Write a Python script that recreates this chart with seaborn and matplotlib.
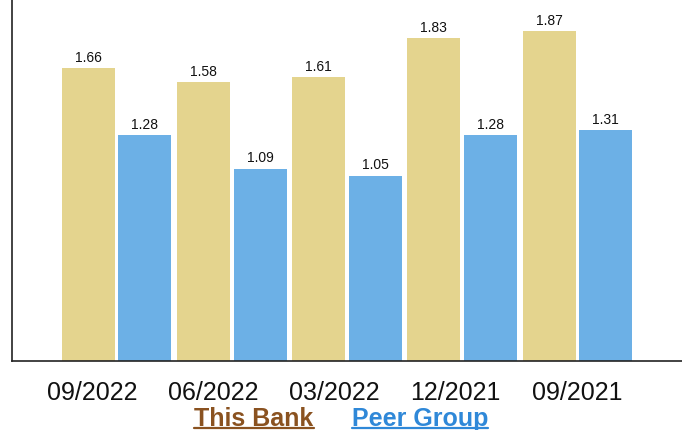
import numpy as np
import pandas as pd
import matplotlib
matplotlib.use("Agg")
import matplotlib.pyplot as plt
import seaborn as sns
from matplotlib.lines import Line2D

periods = ["09/2022", "06/2022", "03/2022", "12/2021", "09/2021"]
this_bank = [1.66, 1.58, 1.61, 1.83, 1.87]
peer_group = [1.28, 1.09, 1.05, 1.28, 1.31]
series_names = ["This Bank", "Peer Group"]

bar_colors = ["#E4D48E", "#6CB0E6"]
legend_colors = ["#8A5220", "#2F88D8"]

df = pd.DataFrame({
    "period": periods * 2,
    "value": this_bank + peer_group,
    "series": [series_names[0]] * len(periods) + [series_names[1]] * len(periods),
})

sns.set_style("white")
plt.rcParams["font.family"] = ["Liberation Sans", "DejaVu Sans"]

fig = plt.figure(figsize=(6.82, 4.31), dpi=100)
ax = fig.add_axes([12 / 682, 69 / 431, 670 / 682, 362 / 431])

sns.barplot(data=df, x="period", y="value", hue="series", order=periods,
            hue_order=series_names, palette=bar_colors, saturation=1,
            width=0.98, gap=0.06, edgecolor="none", legend=False, ax=ax)

for cont in ax.containers:
    ax.bar_label(cont, fmt="%.2f", padding=3, fontsize=10, color="#111111")

ax.set_ylim(0, 2.05)
ax.set_xlim(-0.91, 4.91)
ax.set_xlabel("")
ax.set_ylabel("")
ax.set_yticks([])
# the category labels in the original sit on a slightly wider spacing than the bars
ax.set_xticks(np.arange(len(periods)) * 1.054 - 0.217, periods)
ax.tick_params(axis="x", length=0, labelsize=18, pad=14, labelcolor="#111111")
for side in ["top", "right"]:
    ax.spines[side].set_visible(False)
for side in ["left", "bottom"]:
    ax.spines[side].set_color("#222222")
    ax.spines[side].set_linewidth(1.2)

# legend as coloured, underlined words under the axis
fig.canvas.draw()
renderer = fig.canvas.get_renderer()
xs = [254 / 682, 420 / 682]
base_y = 5 / 431
for name, col, xc in zip(series_names, legend_colors, xs):
    t = fig.text(xc, base_y, name, color=col, fontsize=18, fontweight="bold",
                 ha="center", va="baseline")
    bb = t.get_window_extent(renderer=renderer).transformed(fig.transFigure.inverted())
    uy = base_y - 2.5 / 431
    fig.add_artist(Line2D([bb.x0, bb.x1], [uy, uy], color=col, lw=1.6,
                          transform=fig.transFigure))

fig.savefig("out.png", dpi=100)
